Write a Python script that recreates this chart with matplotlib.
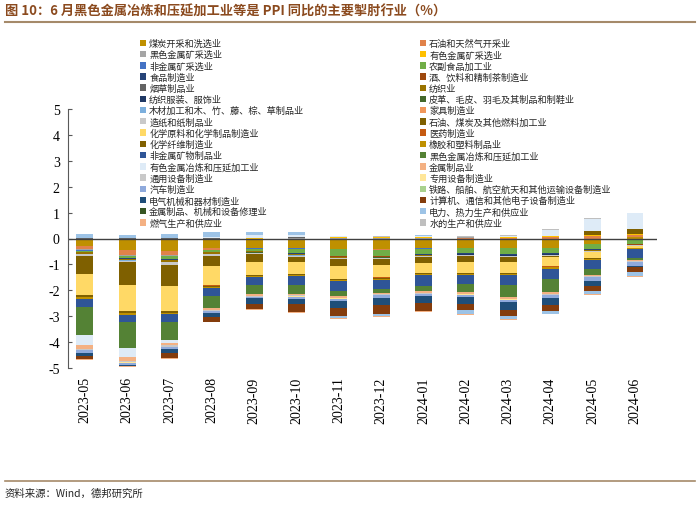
import numpy as np
import matplotlib
matplotlib.use("Agg")
import matplotlib.pyplot as plt
from matplotlib.patches import Patch

plt.rcParams['font.family'] = ['Noto Sans CJK SC', 'DejaVu Sans']

# months on the x axis
months = ['2023-05', '2023-06', '2023-07', '2023-08', '2023-09', '2023-10', '2023-11',
          '2023-12', '2024-01', '2024-02', '2024-03', '2024-04', '2024-05', '2024-06']

# industry names (series order)
names = ['煤炭开采和洗选业', '石油和天然气开采业', '黑色金属矿采选业', '有色金属矿采选业',
         '非金属矿采选业', '农副食品加工业', '食品制造业', '酒、饮料和精制茶制造业',
         '烟草制品业', '纺织业', '纺织服装、服饰业', '皮革、毛皮、羽毛及其制品和制鞋业',
         '木材加工和木、竹、藤、棕、草制品业', '家具制造业', '造纸和纸制品业',
         '石油、煤炭及其他燃料加工业', '化学原料和化学制品制造业', '医药制造业',
         '化学纤维制造业', '橡胶和塑料制品业', '非金属矿物制品业', '黑色金属冶炼和压延加工业',
         '有色金属冶炼和压延加工业', '金属制品业', '通用设备制造业', '专用设备制造业',
         '汽车制造业', '铁路、船舶、航空航天和其他运输设备制造业', '电气机械和器材制造业',
         '计算机、通信和其他电子设备制造业', '金属制品、机械和设备修理业',
         '电力、热力生产和供应业', '燃气生产和供应业', '水的生产和供应业']

# contribution to PPI yoy (pct points)
coal       = [-0.28, -0.45, -0.47, -0.38, -0.38, -0.38, -0.41, -0.41, -0.38, -0.35, -0.37, -0.35, -0.20, 0.06]
oil_gas    = [-0.13, -0.17, -0.16, -0.05, 0.00, 0.00, 0.00, -0.02, 0.00, 0.03, 0.03, 0.05, 0.08, 0.06]
ferr_mine  = [-0.05, -0.05, -0.04, -0.02, 0.00, 0.02, 0.03, 0.03, 0.03, 0.02, 0.00, -0.02, -0.02, -0.02]
nonf_mine  = [0.00, -0.01, -0.01, 0.00, 0.01, 0.01, 0.01, 0.01, 0.01, 0.01, 0.02, 0.03, 0.04, 0.05]
nonm_mine  = [-0.01, -0.01, -0.01, -0.01, -0.01, -0.01, -0.01, -0.01, -0.01, -0.01, -0.01, -0.01, -0.01, -0.01]
agri_food  = [-0.05, -0.08, -0.12, -0.05, -0.08, -0.18, -0.24, -0.22, -0.21, -0.19, -0.21, -0.18, -0.18, -0.17]
food       = [-0.01, -0.02, -0.02, -0.02, -0.02, -0.03, -0.03, -0.03, -0.03, -0.03, -0.03, -0.03, -0.03, -0.03]
beverage   = [-0.005] * 14
tobacco    = [0.01] * 14
textile    = [-0.05, -0.04, -0.06, -0.05, -0.04, -0.04, -0.04, -0.03, -0.03, -0.03, -0.03, -0.02, -0.02, -0.01]
apparel    = [-0.005] * 14
leather    = [-0.005] * 14
wood       = [-0.01] * 14
furniture  = [-0.005] * 14
paper      = [-0.08, -0.06, -0.10, -0.08, -0.05, -0.05, -0.04, -0.04, -0.04, -0.04, -0.04, -0.03, -0.02, -0.02]
petro_coal = [-0.68, -0.87, -0.80, -0.38, -0.28, -0.17, -0.26, -0.23, -0.20, -0.22, -0.18, -0.03, 0.17, 0.20]
chemical   = [-0.80, -0.99, -0.96, -0.73, -0.51, -0.47, -0.50, -0.48, -0.40, -0.43, -0.43, -0.37, -0.24, -0.06]
medicine   = [-0.02] * 14
fiber      = [-0.06, -0.08, -0.06, -0.04, -0.03, -0.03, -0.03, -0.03, -0.02, -0.02, -0.02, -0.02, -0.01, -0.01]
rubber     = [-0.07, -0.08, -0.07, -0.06, -0.05, -0.05, -0.05, -0.05, -0.05, -0.05, -0.05, -0.05, -0.04, -0.03]
nonmetal   = [-0.32, -0.28, -0.30, -0.30, -0.31, -0.35, -0.38, -0.36, -0.42, -0.33, -0.36, -0.40, -0.36, -0.33]
ferrous    = [-1.07, -1.00, -0.70, -0.45, -0.33, -0.32, -0.17, -0.13, -0.19, -0.31, -0.47, -0.52, -0.22, -0.10]
nonferrous = [-0.41, -0.35, -0.10, 0.05, 0.10, 0.10, 0.05, 0.02, 0.05, 0.00, 0.05, 0.25, 0.47, 0.60]
metal_prod = [-0.15, -0.15, -0.10, -0.08, -0.07, -0.07, -0.07, -0.07, -0.07, -0.07, -0.07, -0.06, -0.05, -0.04]
general_eq = [-0.04, -0.04, -0.04, -0.03, -0.03, -0.03, -0.03, -0.03, -0.03, -0.03, -0.03, -0.03, -0.03, -0.03]
special_eq = [-0.01] * 14
auto       = [-0.10, -0.08, -0.10, -0.08, -0.06, -0.08, -0.09, -0.09, -0.09, -0.10, -0.10, -0.12, -0.15, -0.14]
transport  = [-0.005] * 14
electrical = [-0.10, -0.03, -0.12, -0.15, -0.23, -0.22, -0.25, -0.27, -0.25, -0.27, -0.30, -0.27, -0.17, -0.03]
computer   = [-0.12, -0.02, -0.20, -0.18, -0.18, -0.30, -0.32, -0.35, -0.32, -0.22, -0.24, -0.22, -0.22, -0.20]
repair     = [-0.005] * 14
power      = [0.15, 0.12, 0.15, 0.20, 0.12, 0.12, -0.08, -0.09, 0.03, -0.16, -0.10, -0.11, -0.12, -0.15]
gas        = [-0.03, -0.05, -0.05, -0.03, -0.02, -0.02, -0.02, -0.02, -0.02, -0.02, -0.02, -0.02, -0.02, -0.02]
water      = [0.01] * 14

series = [coal, oil_gas, ferr_mine, nonf_mine, nonm_mine, agri_food, food, beverage, tobacco,
          textile, apparel, leather, wood, furniture, paper, petro_coal, chemical, medicine,
          fiber, rubber, nonmetal, ferrous, nonferrous, metal_prod, general_eq, special_eq,
          auto, transport, electrical, computer, repair, power, gas, water]

colors = ['#BF9000', '#E0824A', '#A5A5A5', '#FFC000', '#4472C4', '#70AD47', '#264478',
          '#9E480E', '#636363', '#997300', '#1F3864', '#43682B', '#7CAFDD', '#F1975A',
          '#C9C9C9', '#7F6000', '#FFD966', '#C55A11', '#806000', '#BF9000', '#2F5597',
          '#548235', '#DEEBF7', '#F4B183', '#C9C9C9', '#FFE699', '#8FAADC', '#A9D18E',
          '#1F4E79', '#843C0C', '#375623', '#9DC3E6', '#F4B183', '#BFBFBF']

fig = plt.figure(figsize=(7, 5.06), dpi=100)
ax = fig.add_axes([68 / 700, 1 - 369 / 506, 589 / 700, 259 / 506])

x = np.arange(len(months))
pos_base = np.zeros(len(months))
neg_base = np.zeros(len(months))
for vals, c in zip(series, colors):
    v = np.array(vals)
    bottom = np.where(v >= 0, pos_base, neg_base)
    ax.bar(x, v, width=0.4, bottom=bottom, color=c, edgecolor='none')
    pos_base += np.clip(v, 0, None)
    neg_base += np.clip(v, None, 0)

ax.axhline(0, color='#404040', lw=1.0)
ax.set_xlim(-0.4, 13.52)
ax.set_ylim(-5, 5)
ax.set_yticks(range(-5, 6))
ax.set_yticklabels([str(i) for i in range(-5, 6)], fontfamily='Liberation Serif', fontsize=10)
ax.set_xticks(x)
ax.set_xticklabels(months, rotation=90, fontfamily='Liberation Serif', fontsize=10)
ax.tick_params(axis='x', length=0, pad=6)
ax.tick_params(axis='y', direction='in', length=3, color='#595959', pad=6)
for s in ['top', 'right', 'bottom']:
    ax.spines[s].set_visible(False)
ax.spines['left'].set_color('#595959')

# legend in two columns, row-major like the original
handles = [Patch(facecolor=c, edgecolor='none') for c in colors]
for col, xpos in [(0, 140), (1, 420)]:
    hs = handles[col::2]
    ls = names[col::2]
    fig.legend(hs, ls, loc='upper left', bbox_to_anchor=(xpos / 700, 1 - 40 / 506),
               frameon=False, fontsize=6.6, handlelength=0.7, handleheight=0.7,
               handletextpad=0.3, labelspacing=0.22, borderpad=0, borderaxespad=0,
               labelcolor='#262626')

# title, rules and source
fig.text(5 / 700, 1 - 12 / 506, '图 10：6 月黑色金属冶炼和压延加工业等是 PPI 同比的主要掣肘行业（%）',
         fontsize=9.5, fontweight='bold', color='#8B4A1E', va='center', ha='left')
fig.add_artist(plt.Line2D([5 / 700, 695 / 700], [1 - 23 / 506] * 2, color='#A58A6A', lw=1.5))
fig.add_artist(plt.Line2D([5 / 700, 695 / 700], [1 - 482 / 506] * 2, color='#A58A6A', lw=1.2))
fig.text(5 / 700, 1 - 494 / 506, '资料来源：Wind，德邦研究所', fontsize=7.5, color='#262626',
         va='center', ha='left')

fig.savefig('out.png', dpi=100)
